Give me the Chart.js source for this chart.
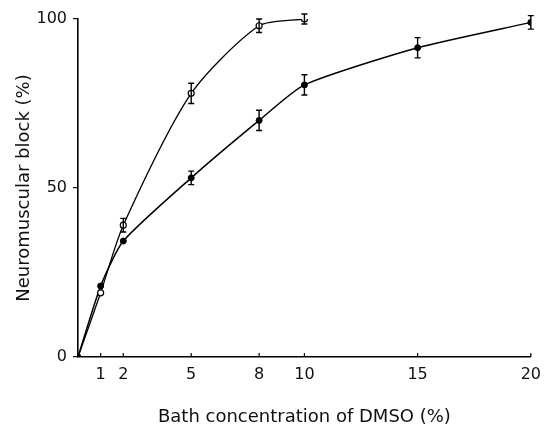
<!DOCTYPE html>
<html>
<head>
<meta charset="utf-8">
<script src="https://cdn.jsdelivr.net/npm/chart.js@4"></script>
<style>
  html, body { margin: 0; padding: 0; background: #fff; }
  #wrap { width: 549px; height: 431px; }
</style>
</head>
<body>
<div id="wrap"><canvas id="dmsoChart" width="549" height="431"></canvas></div>
<script>
// Data
const openConc = [0, 1, 2, 5, 8, 10];
const openBlock = [0, 19, 39, 78, 98, 100];
const openErr = [0, 0, 2, 3, 2, 1.5];

const filledConc = [0, 1, 2, 5, 8, 10, 15, 20];
const filledBlock = [0, 21, 34.3, 53, 70, 80.5, 91.5, 99];
const filledErr = [0, 0, 0, 2, 3, 3, 3, 2];

const xTicks = [1, 2, 5, 8, 10, 15, 20];
const yTicks = [0, 50, 100];

const FONT = '"DejaVu Sans", sans-serif';

function toPoints(xs, ys) {
  return xs.map((x, i) => ({ x: x, y: ys[i] }));
}

// Error bars drawn through the chart scales
const errorBarPlugin = {
  id: 'errorBars',
  afterDatasetsDraw(chart) {
    const ctx = chart.ctx;
    const xs = chart.scales.x;
    const ys = chart.scales.y;
    ctx.save();
    ctx.strokeStyle = '#000';
    ctx.lineWidth = 1.4;
    chart.data.datasets.forEach(ds => {
      if (!ds.errors) return;
      ds.data.forEach((p, i) => {
        const e = ds.errors[i];
        if (!e) return;
        const px = xs.getPixelForValue(p.x);
        const top = ys.getPixelForValue(p.y + e);
        const bot = ys.getPixelForValue(p.y - e);
        ctx.beginPath();
        ctx.moveTo(px, top); ctx.lineTo(px, bot);
        ctx.moveTo(px - 3, top); ctx.lineTo(px + 3, top);
        ctx.moveTo(px - 3, bot); ctx.lineTo(px + 3, bot);
        ctx.stroke();
      });
    });
    ctx.restore();
  }
};

// Inward tick marks on the x axis
const xTickPlugin = {
  id: 'xTicksIn',
  afterDraw(chart) {
    const ctx = chart.ctx;
    const xs = chart.scales.x;
    const y0 = chart.chartArea.bottom;
    ctx.save();
    ctx.strokeStyle = '#000';
    ctx.lineWidth = 1.2;
    xs.ticks.forEach(t => {
      const px = xs.getPixelForValue(t.value);
      ctx.beginPath();
      ctx.moveTo(px, y0);
      ctx.lineTo(px, y0 - 4);
      ctx.stroke();
    });
    ctx.restore();
  }
};

function createChart() {
  const ctx = document.getElementById('dmsoChart').getContext('2d');
  new Chart(ctx, {
    type: 'line',
    data: {
      datasets: [{
        label: 'Open',
        data: toPoints(openConc, openBlock),
        errors: openErr,
        borderColor: '#000',
        borderWidth: 1.3,
        tension: 0.25,
        pointRadius: openConc.map(x => x === 0 ? 2.5 : 3),
        pointBackgroundColor: openConc.map(x => x === 0 ? '#000' : '#fff'),
        pointBorderColor: '#000',
        pointBorderWidth: 1.2,
        fill: false
      }, {
        label: 'Filled',
        data: toPoints(filledConc, filledBlock),
        errors: filledErr,
        borderColor: '#000',
        borderWidth: 1.5,
        tension: 0.2,
        pointRadius: 3,
        pointBackgroundColor: '#000',
        pointBorderColor: '#000',
        pointBorderWidth: 1,
        fill: false
      }]
    },
    options: {
      responsive: false,
      animation: false,
      layout: { padding: { left: 0, right: 11, top: 19, bottom: 0 } },
      plugins: {
        legend: { display: false },
        tooltip: { enabled: false }
      },
      scales: {
        x: {
          type: 'linear',
          min: 0,
          max: 20,
          afterBuildTicks: axis => { axis.ticks = xTicks.map(v => ({ value: v })); },
          afterFit: axis => { axis.height = 74; },
          grid: { display: true, drawOnChartArea: false, drawTicks: false },
          border: { color: '#000', width: 1.6 },
          ticks: { color: '#111', padding: 8, font: { family: FONT, size: 16 } },
          title: {
            display: true,
            text: 'Bath concentration of DMSO (%)',
            color: '#111',
            padding: { top: 0, bottom: 3 },
            font: { family: FONT, size: 18 }
          }
        },
        y: {
          min: 0,
          max: 100,
          afterBuildTicks: axis => { axis.ticks = yTicks.map(v => ({ value: v })); },
          afterFit: axis => { axis.width = 78; },
          grid: { display: true, drawOnChartArea: false, tickLength: 5, color: '#000', lineWidth: 1.2 },
          border: { color: '#000', width: 1.6 },
          ticks: { color: '#111', padding: 6, font: { family: FONT, size: 16 } },
          title: {
            display: true,
            text: 'Neuromuscular block (%)',
            color: '#111',
            padding: { top: 14, bottom: 0 },
            font: { family: FONT, size: 18 }
          }
        }
      }
    },
    plugins: [errorBarPlugin, xTickPlugin]
  });
}

document.addEventListener('DOMContentLoaded', createChart);
</script>
</body>
</html>
